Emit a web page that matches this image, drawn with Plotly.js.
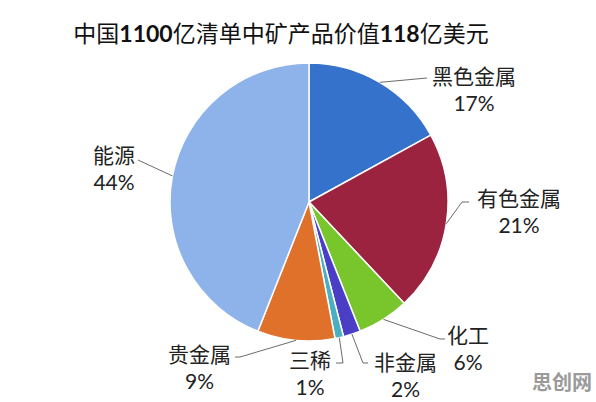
<!DOCTYPE html>
<html>
<head>
<meta charset="utf-8">
<script src="https://cdn.plot.ly/plotly-3.0.1.min.js"></script>
<style>html,body{margin:0;padding:0;background:#fff;}#chart{width:596px;height:402px;}</style>
</head>
<body>
<div id="chart"></div>
<script>
// ---- data ----
var categories = ["黑色金属", "有色金属", "化工", "非金属", "三稀", "贵金属", "能源"];
var values = [17, 21, 6, 2, 1, 9, 44];
var colors = ["#3572CC", "#9C2340", "#79C52C", "#4A3DC6", "#4BAFC4", "#E0712B", "#8DB3EA"];
var titleText = "中国<b>1100</b>亿清单中矿产品价值<b>118</b>亿美元";
var watermark = "思创网";

// ---- layout helpers (pixel -> paper) ----
var W = 596, H = 402;
function px(x) { return x / W; }
function py(y) { return 1 - y / H; }
var cx = 309, cy = 202, r = 139;

// label block centres and leader line elbow/end points (pixels)
var labelPos = [
  {x: 474, y: 89,  pts: [[427, 78]]},
  {x: 519, y: 211, pts: [[462, 202], [469, 202]]},
  {x: 468, y: 348, pts: [[440, 339], [445, 339]]},
  {x: 405, y: 375, pts: [[363, 363], [368, 363]]},
  {x: 310, y: 373, pts: [[343, 363], [336, 363]]},
  {x: 199, y: 367, pts: [[240, 357], [235, 357]]},
  {x: 114, y: 168, pts: [[138, 160]]}
];

var total = values.reduce(function (a, b) { return a + b; }, 0);
var shapes = [], annotations = [];
var cum = 0;
for (var i = 0; i < values.length; i++) {
  var mid = (cum + values[i] / 2) / total * 2 * Math.PI;
  cum += values[i];
  var ax = cx + r * Math.sin(mid), ay = cy - r * Math.cos(mid);
  var lp = labelPos[i];
  var path = "M " + px(ax) + "," + py(ay);
  lp.pts.forEach(function (p) { path += " L " + px(p[0]) + "," + py(p[1]); });
  shapes.push({type: "path", xref: "paper", yref: "paper", path: path,
               line: {color: "#6b6b6b", width: 1}});
  annotations.push({
    text: categories[i] + "<br>" + values[i] + "%",
    xref: "paper", yref: "paper", x: px(lp.x), y: py(lp.y),
    xanchor: "center", yanchor: "middle", showarrow: false, align: "center",
    font: {family: "Lato, 'Noto Sans CJK SC', sans-serif", size: 21, color: "#222"}
  });
}
annotations.push({
  text: "<b>" + watermark + "</b>", xref: "paper", yref: "paper",
  x: px(562), y: py(381), xanchor: "center", yanchor: "middle", showarrow: false,
  font: {family: "'Noto Sans CJK SC', sans-serif", size: 20, color: "#9a9a9a", weight: 900}
});

var trace = {
  type: "pie",
  labels: categories,
  values: values,
  sort: false,
  direction: "clockwise",
  rotation: 0,
  textinfo: "none",
  hoverinfo: "label+percent",
  marker: {colors: colors, line: {color: "#ffffff", width: 1.5}},
  domain: {x: [px(cx - r), px(cx + r)], y: [py(cy + r), py(cy - r)]},
  showlegend: false
};

var layout = {
  width: W, height: H,
  margin: {l: 0, r: 0, t: 0, b: 0},
  paper_bgcolor: "#ffffff",
  title: {
    text: titleText, x: px(281), xanchor: "center", y: py(34), yanchor: "middle",
    font: {family: "Lato, 'Noto Sans CJK SC', sans-serif", size: 23, color: "#111"}
  },
  shapes: shapes,
  annotations: annotations,
  showlegend: false
};

Plotly.newPlot("chart", [trace], layout, {displayModeBar: false, staticPlot: true});
</script>
</body>
</html>
